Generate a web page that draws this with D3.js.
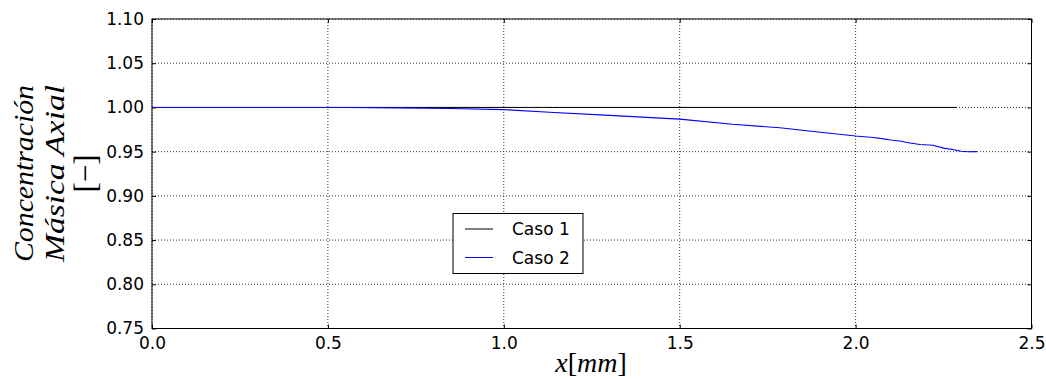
<!DOCTYPE html>
<html>
<head>
<meta charset="utf-8">
<script src="https://cdn.jsdelivr.net/npm/d3@7"></script>
<style>
  body { margin: 0; background: #fff; }
  .tick text { font-family: "DejaVu Sans", sans-serif; font-size: 17px; fill: #000; }
</style>
</head>
<body>
<div id="chart"></div>
<script>
var svgwidth = 1046;
var svgheight = 379;
var margin = { left: 152, top: 19, right: 14.5, bottom: 50.5 };
var inner_width = svgwidth - margin.left - margin.right;
var inner_height = svgheight - margin.top - margin.bottom;

// axis ticks
var xTicks = [0.0, 0.5, 1.0, 1.5, 2.0, 2.5];
var yTicks = [0.75, 0.80, 0.85, 0.90, 0.95, 1.00, 1.05, 1.10];

// Caso 1: constant concentration
var caso1X = [0.0, 2.288];
var caso1Y = [1.0, 1.0];

// Caso 2: slowly decaying concentration
var caso2X = [0.0, 0.3, 0.55, 0.7, 0.85, 1.0, 1.13, 1.3, 1.5, 1.65, 1.785, 1.842, 1.9, 2.0,
  2.05, 2.07, 2.1, 2.126, 2.15, 2.183, 2.22, 2.25, 2.28, 2.3, 2.32, 2.345];
var caso2Y = [1.0, 1.0, 1.0, 0.9995, 0.9988, 0.9975, 0.9945, 0.991, 0.9868, 0.981, 0.977, 0.9745,
  0.972, 0.9677, 0.966, 0.965, 0.9632, 0.962, 0.96, 0.958, 0.9572, 0.954, 0.9522, 0.9505, 0.9498, 0.95];

var svg = d3.select("#chart").append("svg")
  .attr("width", svgwidth)
  .attr("height", svgheight);

var g = svg.append("g")
  .attr("transform", "translate(" + margin.left + "," + margin.top + ")");

var xscale = d3.scaleLinear().domain([0, 2.5]).range([0, inner_width]);
var yscale = d3.scaleLinear().domain([0.75, 1.10]).range([inner_height, 0]);

// dotted grid
g.append("g")
  .selectAll("line.vgrid")
  .data(xTicks)
  .join("line")
  .attr("x1", d => xscale(d)).attr("x2", d => xscale(d))
  .attr("y1", 0).attr("y2", inner_height)
  .attr("stroke", "#000").attr("stroke-width", 0.8)
  .attr("stroke-dasharray", "1,2");

g.append("g")
  .selectAll("line.hgrid")
  .data(yTicks)
  .join("line")
  .attr("x1", 0).attr("x2", inner_width)
  .attr("y1", d => yscale(d)).attr("y2", d => yscale(d))
  .attr("stroke", "#000").attr("stroke-width", 0.8)
  .attr("stroke-dasharray", "1,2");

// axes with inward ticks
var xaxis = d3.axisBottom(xscale).tickValues(xTicks).tickSize(-4).tickPadding(8)
  .tickFormat(d3.format(".1f"));
var yaxis = d3.axisLeft(yscale).tickValues(yTicks).tickSize(-4).tickPadding(8)
  .tickFormat(d3.format(".2f"));

g.append("g").attr("transform", "translate(0," + inner_height + ")").call(xaxis)
  .call(a => a.select(".domain").remove());
g.append("g").call(yaxis)
  .call(a => a.select(".domain").remove());
g.append("g").call(d3.axisTop(xscale).tickValues(xTicks).tickSize(-4).tickFormat(""))
  .call(a => a.select(".domain").remove());
g.append("g").attr("transform", "translate(" + inner_width + ",0)")
  .call(d3.axisRight(yscale).tickValues(yTicks).tickSize(-4).tickFormat(""))
  .call(a => a.select(".domain").remove());

g.selectAll(".tick line").attr("stroke", "#000");

// lines
var line = d3.line().x(d => xscale(d[0])).y(d => yscale(d[1]));

g.append("path")
  .datum(caso1X.map((d, i) => [d, caso1Y[i]]))
  .attr("d", line)
  .attr("fill", "none")
  .attr("stroke", "#000")
  .attr("stroke-width", 1);

g.append("path")
  .datum(caso2X.map((d, i) => [d, caso2Y[i]]))
  .attr("d", line)
  .attr("fill", "none")
  .attr("stroke", "#0000ff")
  .attr("stroke-width", 1.1);

// frame
g.append("rect")
  .attr("width", inner_width).attr("height", inner_height)
  .attr("fill", "none").attr("stroke", "#000").attr("stroke-width", 1);

// legend
var legend = svg.append("g").attr("transform", "translate(453,213.5)");
legend.append("rect")
  .attr("width", 130).attr("height", 60)
  .attr("fill", "#fff").attr("stroke", "#000").attr("stroke-width", 1);

var legendItems = [
  { name: "Caso 1", color: "#000" },
  { name: "Caso 2", color: "#0000ff" }
];
var li = legend.selectAll(".item").data(legendItems).join("g")
  .attr("transform", (d, i) => "translate(0," + (15.5 + i * 28.5) + ")");
li.append("line")
  .attr("x1", 12).attr("x2", 40)
  .attr("stroke", d => d.color).attr("stroke-width", 1);
li.append("text")
  .attr("x", 59).attr("y", 6)
  .style("font-family", "DejaVu Sans, sans-serif")
  .style("font-size", "17px")
  .text(d => d.name);

// axis titles: italic letters, upright brackets
var xlab = svg.append("text")
  .attr("x", 591).attr("y", 372)
  .attr("text-anchor", "middle")
  .style("font-family", "Liberation Serif, serif")
  .style("font-size", "28px");
[["x", "italic"], ["[", "normal"], ["mm", "italic"], ["]", "normal"]].forEach(function (p) {
  xlab.append("tspan").style("font-style", p[1]).text(p[0]);
});

var ylab = [
  { t: "Concentración", x: 33, len: 177, style: "italic", size: 28 },
  { t: "Másica  Axial", x: 64, len: 177, style: "italic", size: 28 },
  { t: "[−]", x: 96, len: 38, style: "normal", size: 32 }
];
svg.selectAll(".ylab").data(ylab).join("text")
  .attr("class", "ylab")
  .attr("transform", d => "translate(" + d.x + ",173.5) rotate(-90)")
  .attr("text-anchor", "middle")
  .attr("textLength", d => d.len)
  .attr("lengthAdjust", "spacingAndGlyphs")
  .style("font-family", "Liberation Serif, serif")
  .style("font-style", d => d.style)
  .style("font-size", d => d.size + "px")
  .text(d => d.t);
</script>
</body>
</html>
